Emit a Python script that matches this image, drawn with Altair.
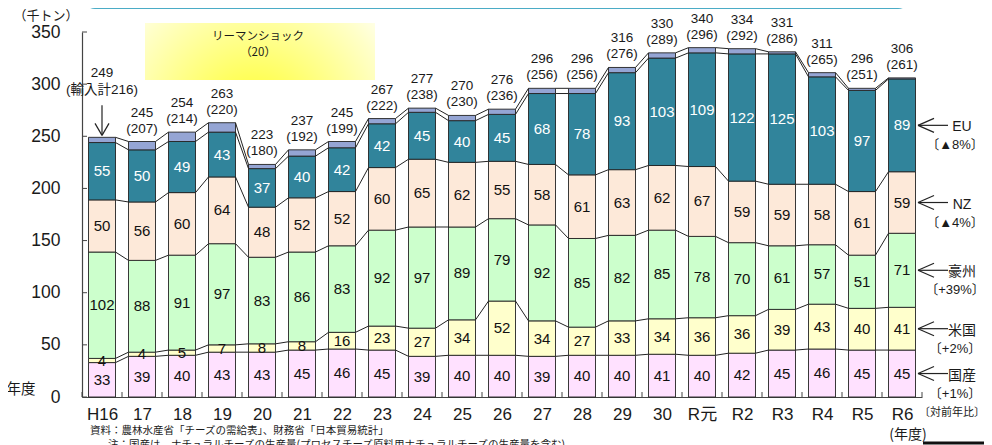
import json
import altair as alt
import pandas as pd

# ---------------- data ----------------
years = ["H16", "17", "18", "19", "20", "21", "22", "23", "24", "25", "26",
         "27", "28", "29", "30", "R元", "R2", "R3", "R4", "R5", "R6"]
domestic = [33, 39, 40, 43, 43, 45, 46, 45, 39, 40, 40, 39, 40, 40, 41, 40, 42, 45, 46, 45, 45]
usa = [4, 4, 5, 7, 8, 8, 16, 23, 27, 34, 52, 34, 27, 33, 34, 36, 36, 39, 43, 40, 41]
australia = [102, 88, 91, 97, 83, 86, 83, 92, 97, 89, 79, 92, 85, 82, 85, 78, 70, 61, 57, 51, 71]
nz = [50, 56, 60, 64, 48, 52, 52, 60, 65, 62, 55, 58, 61, 63, 62, 67, 59, 59, 58, 61, 59]
eu = [55, 50, 49, 43, 37, 40, 42, 42, 45, 40, 45, 68, 78, 93, 103, 109, 122, 125, 103, 97, 89]
others = [5, 8, 9, 9, 4, 6, 6, 5, 4, 5, 5, 5, 5, 5, 5, 5, 5, 2, 4, 2, 1]
totals = [249, 245, 254, 263, 223, 237, 245, 267, 277, 270, 276,
          296, 296, 316, 330, 340, 334, 331, 311, 296, 306]
imports = [216, 207, 214, 220, 180, 192, 199, 222, 238, 230, 236,
           256, 256, 276, 289, 296, 292, 286, 265, 251, 261]
series_names = ["国産", "米国", "豪州", "NZ", "EU", "その他"]
changes = ["〔+1%〕", "〔+2%〕", "〔+39%〕", "〔▲4%〕", "〔▲8%〕"]
colors = ["#FFE1FF", "#FFFFCC", "#CCFFCC", "#FDE9D9", "#31849B", "#95A5D4"]
y_ticks = [0, 50, 100, 150, 200, 250, 300, 350]

# ---------------- tables built from the arrays ----------------
HW = 0.3375
series = [domestic, usa, australia, nz, eu, others]
n = len(years)
cum = [0] * n
tops = []
rows = []
for k, vals in enumerate(series):
    t = []
    for i in range(n):
        lo = cum[i]
        hi = lo + vals[i]
        rows.append(dict(i=i, xl=i - HW, xr=i + HW, lo=lo, hi=hi, mid=(lo + hi) / 2,
                         name=series_names[k], order=k,
                         lab=str(vals[i]) if k < 5 else "",
                         tc="white" if k == 4 else "#111111"))
        cum[i] = hi
        t.append(hi)
    tops.append(t)
segs = pd.DataFrame(rows)

crow = []
for k in range(6):
    for i in range(n - 1):
        crow.append(dict(x1=i + HW, x2=i + 1 - HW, y1=tops[k][i], y2=tops[k][i + 1]))
conn_df = pd.DataFrame(crow)

tot_df = pd.DataFrame(dict(
    i=list(range(n)), top=tops[5],
    tot=[str(v) for v in totals],
    imp=["(輸入計%d)" % imports[0]] + ["(%d)" % v for v in imports[1:]],
))

right_df = pd.DataFrame(dict(
    name=series_names[:5], change=changes,
    mid=[segs[(segs.order == k) & (segs.i == n - 1)].mid.iloc[0] for k in range(5)],
))

ytick_df = pd.DataFrame(dict(v=y_ticks))
xtick_df = pd.DataFrame(dict(b=[i - 0.5 for i in range(n + 1)]))

FONT = "Liberation Sans, Arial, Noto Sans CJK JP"
JFONT = "Noto Sans CJK JP"
TXT = "#1a1a1a"

xscale = alt.Scale(domain=[-0.5, n - 0.5], nice=False, zero=False)
yscale = alt.Scale(domain=[0, 350], nice=False)
label_expr = json.dumps(years, ensure_ascii=False) + "[datum.value]"

XAX = alt.Axis(values=list(range(n)), labelExpr=label_expr, grid=False,
               ticks=False, tickSize=0, labelPadding=9, labelFontSize=17,
               labelFont=FONT, labelColor=TXT, labelFlush=False,
               labelOverlap=False, domainColor="#444444", domainWidth=1.2, title=None)
YAX = alt.Axis(values=y_ticks, grid=False, ticks=False, tickSize=0,
               labelPadding=22, labelFontSize=17.5, labelFont=FONT,
               labelColor=TXT, domainColor="#444444", domainWidth=1.2, title=None)


def X(f):
    return alt.X(f, scale=xscale, axis=XAX, title=None)


def Y(f):
    return alt.Y(f, scale=yscale, axis=YAX, title=None)


# ---------------- decorations ----------------
top_box = alt.Chart(pd.DataFrame({"a": [0]})).mark_rect(
    fill="#FFFF99", stroke="#4BACC6", strokeWidth=3, cornerRadius=10
).encode(x=alt.value(3), x2=alt.value(826), y=alt.value(-70), y2=alt.value(-24.5))

glow = alt.Chart(pd.DataFrame({"a": [0]})).mark_rect(
    fill={"gradient": "radial",
          "stops": [{"offset": 0, "color": "#FFFF20"},
                    {"offset": 0.45, "color": "#FFFF80"},
                    {"offset": 0.8, "color": "#FFFFC8"},
                    {"offset": 1, "color": "#FFFFF8"}],
          "x1": 0.47, "y1": 0.82, "r1": 0, "x2": 0.47, "y2": 0.82, "r2": 0.75}
).encode(x=alt.value(63), x2=alt.value(293), y=alt.value(-9), y2=alt.value(48))


def note(text, x, y, size, align="center", font=JFONT):
    return alt.Chart(pd.DataFrame({"t": [text]})).mark_text(
        fontSize=size, font=font, color=TXT, align=align, baseline="middle"
    ).encode(x=alt.value(x), y=alt.value(y), text="t:N")


# ---------------- main marks ----------------
bars = alt.Chart(segs).mark_bar(stroke="#222222", strokeWidth=0.9).encode(
    x=X("xl:Q"), x2="xr:Q",
    y=Y("lo:Q"), y2="hi:Q",
    color=alt.Color("name:N", scale=alt.Scale(domain=series_names, range=colors), legend=None),
)

conns = alt.Chart(conn_df).mark_rule(color="#222222", strokeWidth=1).encode(
    x=X("x1:Q"), x2="x2:Q", y=Y("y1:Q"), y2="y2:Q")

seg_labels = alt.Chart(segs[segs.order < 5]).mark_text(
    fontSize=15, font=FONT, baseline="middle").encode(
    x=X("i:Q"), y=Y("mid:Q"),
    text="lab:N", color=alt.Color("tc:N", scale=None))

tot_base = alt.Chart(tot_df).encode(x=X("i:Q"), y=Y("top:Q"))
tot1 = tot_base.transform_filter("datum.i > 0").mark_text(
    fontSize=13.5, font=FONT, color=TXT, dy=-29, baseline="middle").encode(text="tot:N")
imp1 = tot_base.transform_filter("datum.i > 0").mark_text(
    fontSize=13.5, font=FONT, color=TXT, dy=-13, baseline="middle").encode(text="imp:N")
tot0 = tot_base.transform_filter("datum.i == 0").mark_text(
    fontSize=13.5, font=FONT, color=TXT, dy=-64, baseline="middle").encode(text="tot:N")
imp0 = tot_base.transform_filter("datum.i == 0").mark_text(
    fontSize=13.5, font=FONT, color=TXT, dy=-47, baseline="middle").encode(text="imp:N")

arrow_base = alt.Chart(tot_df).transform_filter("datum.i == 0").encode(
    x=X("i:Q"), x2="i:Q", y=Y("top:Q"), y2="top:Q")
shaft = arrow_base.mark_rule(color="#222222", strokeWidth=1.2, yOffset=-32, y2Offset=-2)
arm_l = arrow_base.mark_rule(color="#222222", strokeWidth=1.2, xOffset=-7, x2Offset=0,
                             yOffset=-14, y2Offset=-2)
arm_r = arrow_base.mark_rule(color="#222222", strokeWidth=1.2, xOffset=7, x2Offset=0,
                             yOffset=-14, y2Offset=-2)

r_base = alt.Chart(right_df).encode(y=Y("mid:Q"))
r_shaft = r_base.mark_rule(color="#222222", strokeWidth=1.2).encode(
    x=alt.value(836), x2=alt.value(866))
r_arm1 = r_base.mark_rule(color="#222222", strokeWidth=1.2, y2Offset=-7).encode(
    x=alt.value(836), x2=alt.value(852), y2="mid:Q")
r_arm2 = r_base.mark_rule(color="#222222", strokeWidth=1.2, y2Offset=7).encode(
    x=alt.value(836), x2=alt.value(852), y2="mid:Q")
r_name = r_base.mark_text(fontSize=14, font=FONT, color=TXT, dy=2, baseline="middle").encode(
    x=alt.value(880), text="name:N")
r_chg = r_base.mark_text(fontSize=13, font=FONT, color=TXT, dy=20, baseline="middle",
                         align="center").encode(x=alt.value(873), text="change:N")

yticks = alt.Chart(ytick_df).mark_rule(color="#444444", strokeWidth=1).encode(
    x=alt.value(0), x2=alt.value(5), y=Y("v:Q"))
xticks = alt.Chart(xtick_df).mark_rule(color="#444444", strokeWidth=1).encode(
    x=X("b:Q"), y=alt.value(365), y2=alt.value(360))

bottom_bar = alt.Chart(pd.DataFrame({"a": [0]})).mark_rule(
    color="#111111", strokeWidth=3).encode(x=alt.value(841), x2=alt.value(910), y=alt.value(411))

chart = alt.layer(
    top_box, glow, bars, conns, seg_labels, tot1, imp1, tot0, imp0,
    shaft, arm_l, arm_r, r_shaft, r_arm1, r_arm2, r_name, r_chg, yticks, xticks,
    note("リーマンショック", 176, 5, 11.5),
    note("（20）", 176, 21, 11.5),
    note("（千トン）", -36, -16, 13),
    note("年度", -61, 358, 14.5),
    note("(年度)", 826, 403, 14),
    note("〔対前年比〕", 837, 381, 11, align="left"),
    note("資料：農林水産省「チーズの需給表」、財務省「日本貿易統計」", 8, 399, 10.5, align="left"),
    note("注：国産は、ナチュラルチーズの生産量(プロセスチーズ原料用ナチュラルチーズの生産量を含む)", 26, 413, 10.5, align="left"),
    bottom_bar,
).properties(
    width=840, height=365,
    autosize=alt.AutoSizeParams(type="none"),
    padding={"left": 74, "top": 24, "right": 62, "bottom": 48},
).configure_view(strokeWidth=0)

chart.save("out.html", embed_options={"renderer": "svg", "actions": False})
